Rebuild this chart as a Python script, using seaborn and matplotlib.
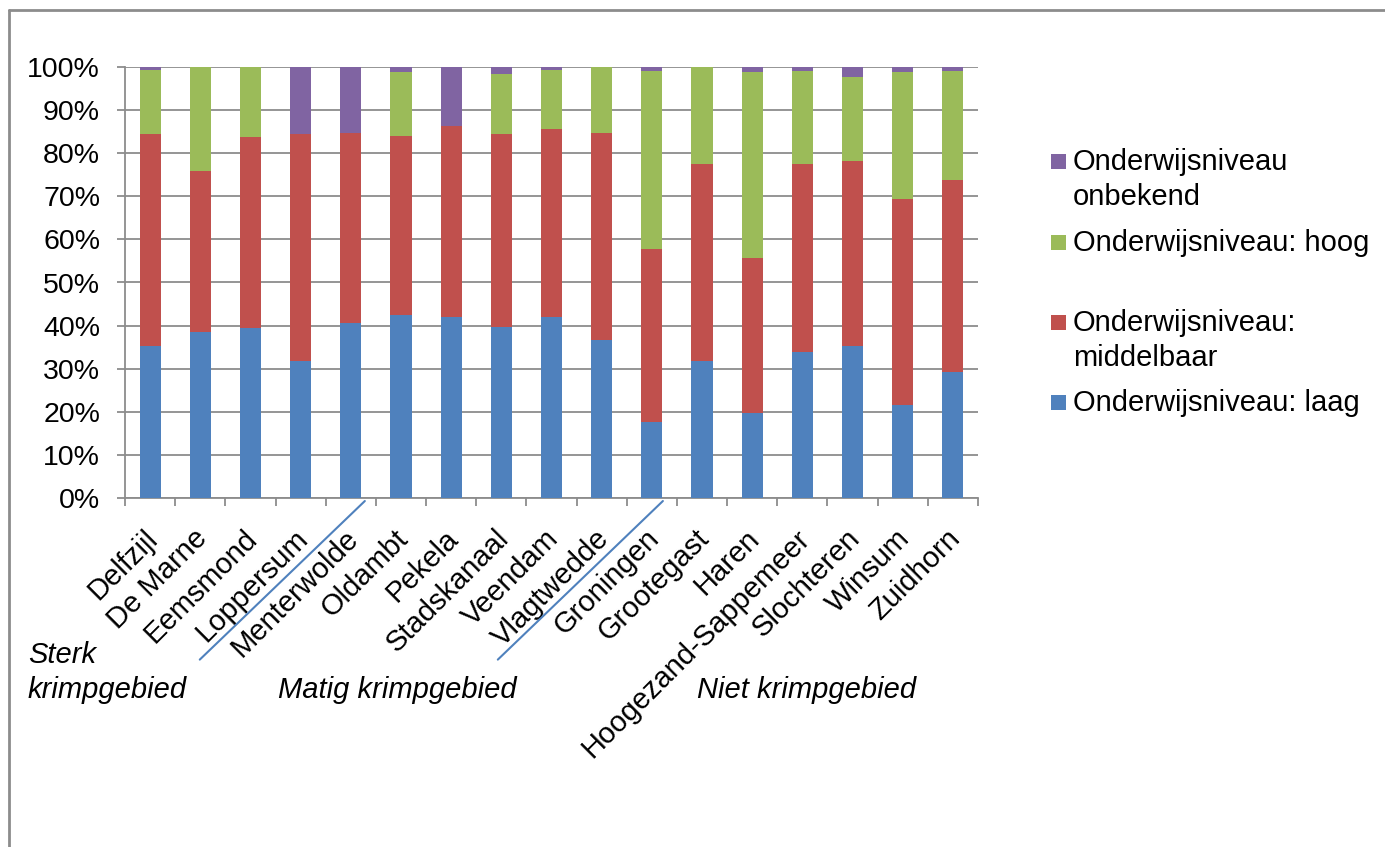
import numpy as np
import pandas as pd
import matplotlib
matplotlib.use("Agg")
import matplotlib.pyplot as plt
import matplotlib.transforms as mtransforms
from matplotlib.patches import Rectangle
from matplotlib.lines import Line2D
from matplotlib.ticker import FuncFormatter, FixedLocator
import seaborn as sns

# Municipalities of Groningen, grouped by population-decline category
gemeenten = ["Delfzijl", "De Marne", "Eemsmond", "Loppersum", "Menterwolde",
             "Oldambt", "Pekela", "Stadskanaal", "Veendam", "Vlagtwedde",
             "Groningen", "Grootegast", "Haren", "Hoogezand-Sappemeer",
             "Slochteren", "Winsum", "Zuidhorn"]

# Share of the population per education level (%)
laag       = [35.2, 38.4, 39.4, 31.9, 40.6, 42.5, 42.1, 39.7, 42.1, 36.6,
              17.6, 31.8, 19.7, 33.8, 35.2, 21.6, 29.2]
middelbaar = [49.2, 37.4, 44.4, 52.5, 44.1, 41.6, 44.1, 44.7, 43.5, 48.2,
              40.2, 45.6, 36.0, 43.6, 43.1, 47.7, 44.5]
hoog       = [14.8, 24.2, 16.2, 0.0, 0.0, 14.7, 0.0, 13.9, 13.6, 15.2,
              41.3, 22.6, 43.1, 21.7, 19.4, 29.5, 25.4]
onbekend   = [0.8, 0.0, 0.0, 15.6, 15.3, 1.2, 13.8, 1.7, 0.8, 0.0,
              0.9, 0.0, 1.2, 0.9, 2.3, 1.2, 0.9]

series_labels = ["Onderwijsniveau: laag", "Onderwijsniveau:\nmiddelbaar",
                 "Onderwijsniveau: hoog", "Onderwijsniveau\nonbekend"]
series_colors = ["#4F81BD", "#C0504D", "#9BBB59", "#8064A2"]

groep_labels = ["Sterk\nkrimpgebied", "Matig krimpgebied", "Niet krimpgebied"]

df = pd.DataFrame({"gemeente": gemeenten, "laag": laag, "middelbaar": middelbaar,
                   "hoog": hoog, "onbekend": onbekend})
cols = ["laag", "middelbaar", "hoog", "onbekend"]
cum = df[cols].cumsum(axis=1)

sns.set_theme(style="white")
plt.rcParams["font.family"] = ["Liberation Sans", "DejaVu Sans"]
plt.rcParams["text.color"] = "black"
plt.rcParams["xtick.color"] = "black"
plt.rcParams["ytick.color"] = "black"

W, H = 1385, 847
fig = plt.figure(figsize=(W / 100, H / 100), dpi=100)
fig.patch.set_facecolor("white")

L, R, T, B = 125, 978, 67, 498
ax = fig.add_axes([L / W, 1 - B / H, (R - L) / W, (B - T) / H])

# Stacked bars: draw cumulative totals from the top segment downwards
for col, color in reversed(list(zip(cols, series_colors))):
    sns.barplot(x=df["gemeente"], y=cum[col], color=color, saturation=1,
                width=0.42, ax=ax, linewidth=0, zorder=3)

grid_c = "#8C8C8C"
FS = 20.5   # tick labels
FT = 21     # legend and group names
ax.set_ylim(0, 100)
ax.set_xlim(-0.5, len(gemeenten) - 0.5)
ax.set_yticks(np.arange(0, 101, 10))
ax.yaxis.set_major_formatter(FuncFormatter(lambda v, p: f"{v:.0f}%"))
ax.grid(axis="y", color=grid_c, linewidth=1.3, zorder=0)
ax.grid(axis="x", visible=False)
ax.set_axisbelow(True)
ax.set_xlabel("")
ax.set_ylabel("")

for s in ["top", "right"]:
    ax.spines[s].set_visible(False)
for s in ["left", "bottom"]:
    ax.spines[s].set_color(grid_c)
    ax.spines[s].set_linewidth(1.3)

ax.tick_params(axis="y", which="major", left=True, length=6, width=1.3,
               color=grid_c, labelsize=FS, pad=12, labelcolor="black")
ax.tick_params(axis="x", which="major", bottom=False, length=0,
               labelsize=FT, pad=26, labelcolor="black")
ax.xaxis.set_minor_locator(FixedLocator(np.arange(-0.5, len(gemeenten), 1.0)))
ax.tick_params(axis="x", which="minor", bottom=True, length=6, width=1.3,
               color=grid_c)
ax.set_xticks(range(len(gemeenten)))
ax.set_xticklabels(gemeenten, rotation=45, ha="right", va="center",
                   rotation_mode="anchor")
shift = mtransforms.ScaledTranslation(3 / 100, 0, fig.dpi_scale_trans)
for lbl in ax.get_xticklabels():
    lbl.set_transform(lbl.get_transform() + shift)

# Group separators below the category axis
bt = mtransforms.blended_transform_factory(ax.transData, ax.transAxes)
for x_top in (4.28, 10.22):
    ax.add_line(Line2D([x_top, x_top - 3.29], [-0.007, -0.375], transform=bt,
                       color="#4F81BD", linewidth=1.5, clip_on=False))

# Group names
def px(x, y):
    return x / W, 1 - y / H

fig.text(*px(28, 655), "Sterk", fontsize=FT, style="italic", va="center", ha="left")
fig.text(*px(28, 690), "krimpgebied", fontsize=FT, style="italic", va="center", ha="left")
fig.text(*px(278, 690), groep_labels[1], fontsize=FT, style="italic", va="center", ha="left")
fig.text(*px(697, 690), groep_labels[2], fontsize=FT, style="italic", va="center", ha="left")

# Legend (top entry = top segment)
legend_rows = [(3, 162), (2, 243), (1, 323), (0, 403)]
for idx, yc in legend_rows:
    x0, y0 = px(1051, yc + 7)
    fig.patches.append(Rectangle((x0, y0), 15 / W, 15 / H, transform=fig.transFigure,
                                 facecolor=series_colors[idx], edgecolor="none"))
    for k, line in enumerate(series_labels[idx].split("\n")):
        fig.text(*px(1073, yc + k * 35), line, fontsize=FT, va="center", ha="left")

# Outer chart frame
fig.add_artist(Line2D([9 / W, 9 / W], [0, 1 - 10 / H], transform=fig.transFigure,
                      color="#8C8C8C", linewidth=2))
fig.add_artist(Line2D([9 / W, 1], [1 - 10 / H, 1 - 10 / H], transform=fig.transFigure,
                      color="#8C8C8C", linewidth=2))

fig.savefig("out.png", dpi=100, facecolor="white")
